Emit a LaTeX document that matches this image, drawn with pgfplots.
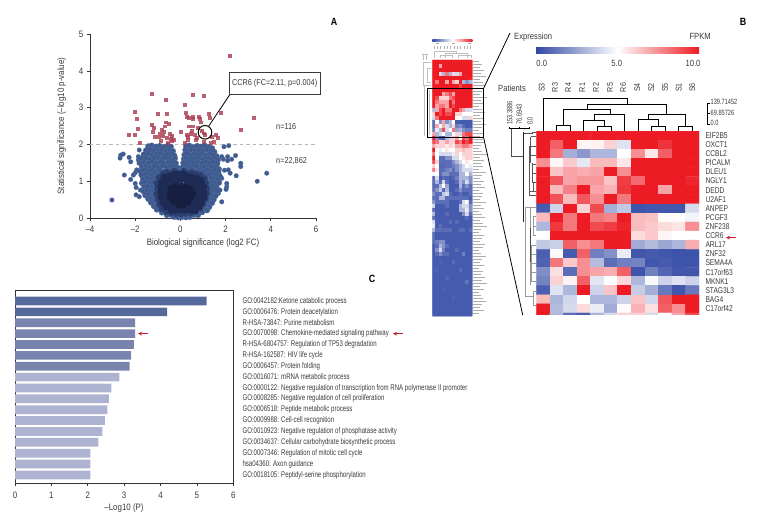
\documentclass[border=0pt]{standalone}
\usepackage{pgfplots}
\pgfplotsset{compat=1.18}
\usepackage{fontspec}
\setmainfont[FakeStretch=0.85]{Liberation Sans}
\newfontfamily\narrowfont[FakeStretch=0.74]{Liberation Sans}
\newfontfamily\genefont[FakeStretch=0.79]{Liberation Sans}
\usetikzlibrary{arrows.meta}
\definecolor{txt}{HTML}{3A3A3A}
\definecolor{axc}{HTML}{333333}
\definecolor{bA}{HTML}{3F5A8E}
\definecolor{bAe}{HTML}{5570A2}
\definecolor{bB}{HTML}{2B3F70}
\definecolor{bC}{HTML}{1E2C55}
\definecolor{bD}{HTML}{161F40}
\definecolor{redsq}{HTML}{A83A4E}
\definecolor{barA}{HTML}{55699A}
\definecolor{barB}{HTML}{7884AE}
\definecolor{barC}{HTML}{ADB3D0}
\definecolor{arrred}{HTML}{C8202E}
\pgfplotsset{colormap={hm}{rgb255=(50,72,165) rgb255=(255,255,255) rgb255=(237,28,36)}}
\pgfplotsset{
  pxaxis/.style={scale only axis, anchor=south west, tick label style={font=\fontsize{9.3}{10}\selectfont, text=txt},
    axis line style={axc,-}, tick style={axc, line width=.8pt}, major tick length=3pt, tick align=outside, line width=.8pt},
}
\begin{document}
\begin{tikzpicture}[x=1pt,y=-1pt]
\useasboundingbox (0,0) rectangle (764,522);

%%%% Panel A
\begin{axis}[pxaxis, at={(90pt,-218pt)}, width=226pt, height=183.7pt,
  xmin=-4, xmax=6, ymin=0, ymax=5, axis x line*=bottom, axis y line*=left,
  xtick={-4,-2,0,2,4,6}, xticklabels={–4,–2,0,2,4,6},
  ytick={0,1,2,3,4,5}, yticklabels={0,1,2,3,4,5}, clip=false, xticklabel style={yshift=-1pt}]
% sparse blue points
\addplot[only marks, mark=*, mark size=2.3pt, mark options={fill=bA, draw=bAe, line width=.3pt}] coordinates {
(-3.03,.49)(3.40,1.0)(3.82,1.22)(2.47,1.15)(2.44,1.70)(2.67,1.49)(2.67,1.40)(2.27,1.6)(2.09,1.56)(2.09,1.67)(1.93,1.94)(2.14,1.97)(1.83,.44)(1.83,1.67)
(-2.48,1.17)(-2.2,1.05)(-2.64,1.71)(-2.53,1.74)(-2.67,1.63)(-2.27,1.65)(-2.2,1.53)(-2,1.23)(-1.93,1.31)(-2.08,1.17)(-2,.94)(-1.96,.83)(-1.96,.63)(-1.82,.58)(-1.77,.76)(-1.86,1.67)(-1.86,1.58)(-1.82,1.85)(-1.83,1.49)
(2.05,.85)(2.05,.94)(2.02,.78)(2.2,1.22)(2.12,1.31)(1.83,1.08)(1.75,.76)(1.68,.67)(1.95,1.3)(1.9,1.6)
};
% dense blue points
\addplot[only marks, mark=*, mark size=2.9pt, mark options={fill=bA, draw=bAe, line width=.2pt}] coordinates {
(-1.42,1.95)(-1.27,1.97)(-1.08,1.94)(-.92,1.96)(-.73,1.93)(-.56,1.97)(-.42,1.94)(.25,1.95)(.39,1.97)(.56,1.93)(.74,1.96)(.91,1.94)(1.08,1.97)(1.26,1.93)(1.4,1.9)
(-1.52,1.84)(-1.34,1.86)(-1.15,1.83)(-.99,1.85)(-.81,1.87)(-.64,1.83)(-.46,1.85)(-.33,1.82)(.22,1.85)(.33,1.82)(.48,1.86)(.66,1.83)(.83,1.85)(1.01,1.82)(1.18,1.86)(1.36,1.83)(1.5,1.8)
(-1.62,1.73)(-1.44,1.75)(-1.25,1.72)(-1.07,1.74)(-.9,1.76)(-.72,1.72)(-.55,1.75)(-.38,1.73)(-.27,1.7)(.18,1.72)(.28,1.75)(.43,1.71)(.59,1.74)(.76,1.72)(.94,1.75)(1.11,1.71)(1.29,1.74)(1.46,1.71)(1.6,1.68)
(-1.72,1.62)(-1.53,1.64)(-1.35,1.6)(-1.17,1.63)(-.99,1.65)(-.81,1.61)(-.63,1.64)(-.47,1.62)(-.34,1.6)(-.24,1.63)(.16,1.61)(.25,1.64)(.37,1.6)(.51,1.63)(.68,1.61)(.85,1.64)(1.03,1.6)(1.2,1.63)(1.38,1.6)(1.54,1.63)(1.66,1.58)
(-1.76,1.5)(-1.6,1.52)(-1.42,1.49)(-1.24,1.52)(-1.06,1.5)(-.88,1.53)(-.7,1.49)(-.53,1.52)(-.4,1.5)(-.29,1.53)(-.2,1.49)(.13,1.5)(.22,1.53)(.33,1.49)(.46,1.52)(.61,1.5)(.78,1.53)(.95,1.49)(1.13,1.52)(1.3,1.49)(1.47,1.52)(1.63,1.48)
(-1.7,1.39)(-1.52,1.41)(-1.34,1.38)(-1.15,1.41)(-.97,1.39)(-.79,1.42)(-.61,1.38)(-.44,1.41)(-.32,1.38)(-.22,1.41)(-.13,1.37)(.1,1.38)(.19,1.41)(.29,1.37)(.42,1.4)(.55,1.38)(.72,1.41)(.89,1.37)(1.07,1.4)(1.24,1.38)(1.41,1.41)(1.58,1.37)(1.7,1.33)
(-1.78,1.28)(-1.6,1.3)(-1.43,1.27)(-1.26,1.3)(-1.08,1.27)(-.9,1.3)(-.72,1.26)(-.55,1.29)(-.38,1.27)(-.22,1.3)(-.1,1.27)(.09,1.28)(.23,1.31)(.37,1.27)(.52,1.3)(.69,1.27)(.86,1.3)(1.02,1.27)(1.2,1.3)(1.36,1.26)(1.52,1.29)(1.68,1.25)
(-1.72,1.17)(-1.54,1.19)(-1.37,1.16)(-1.2,1.19)(-1.03,1.16)(-.87,1.18)(1.12,1.16)(1.29,1.19)(1.46,1.15)(1.62,1.18)(1.74,1.14)
(-1.65,1.06)(-1.48,1.08)(-1.31,1.05)(-1.14,1.08)(-.98,1.05)(1.19,1.05)(1.36,1.08)(1.53,1.04)(1.68,1.07)
(-1.7,.95)(-1.54,.97)(-1.38,.94)(-1.21,.97)(-1.04,.94)(1.23,.95)(1.4,.97)(1.56,.94)(1.71,.96)
(-1.6,.84)(-1.44,.86)(-1.27,.83)(-1.1,.86)(1.27,.84)(1.44,.86)(1.6,.83)
(-1.62,.72)(-1.48,.75)(-1.32,.72)(-1.15,.75)(1.28,.72)(1.45,.75)(1.62,.73)
(-1.55,.62)(-1.38,.64)(-1.22,.61)(-1.06,.64)(1.23,.61)(1.39,.63)(1.55,.6)
(-1.42,.52)(-1.27,.54)(-1.1,.51)(1.15,.52)(1.32,.54)(1.47,.5)
(-1.3,.42)(-1.14,.44)(-.98,.41)(1.1,.42)(1.25,.44)(1.4,.41)
(-1.17,.32)(-1.02,.34)(-.86,.31)(.98,.31)(1.14,.33)(1.28,.3)
(-1.04,.23)(-.9,.25)(-.74,.22)(-.58,.24)(.78,.24)(.93,.22)(1.08,.25)(1.18,.21)
(-.82,.15)(-.67,.16)(-.5,.14)(-.34,.16)(.5,.15)(.67,.16)(.83,.14)(.97,.16)
(-.6,.08)(-.42,.09)(-.25,.07)(-.08,.09)(.1,.08)(.27,.09)(.45,.07)(.62,.09)(.78,.08)
(-.28,.03)(-.1,.02)(.08,.03)(.25,.02)(.42,.03)
};
% second ring
\addplot[only marks, mark=*, mark size=2.6pt, mark options={fill=bB, draw=bB}] coordinates {
(-.95,1.1)(-.78,1.2)(-.6,1.25)(-.42,1.22)(-.27,1.28)(.14,1.28)(.3,1.22)(.5,1.24)(.7,1.2)(.9,1.17)(1.08,1.08)
(-1.05,.95)(-1.02,.8)(-1.06,.65)(-1,.5)(-.93,.36)(-.82,.24)(-.62,.17)(-.42,.13)(-.2,.11)(.02,.1)(.24,.12)(.46,.13)(.68,.18)(.88,.26)(1.02,.38)(1.12,.52)(1.18,.66)(1.18,.8)(1.14,.95)
};
% dense core
\addplot[only marks, mark=*, mark size=3.2pt, mark options={fill=bC, draw=bC}] coordinates {
(-.72,1.1)(-.5,1.14)(-.28,1.18)(-.12,1.2)(.12,1.2)(.3,1.14)(.52,1.12)(.74,1.08)(.92,1.02)
(-.82,.98)(-.6,1)(-.38,1.02)(-.16,1.04)(.06,1.06)(.28,1.02)(.5,1)(.72,.98)(.94,.93)(1.02,.85)
(-.86,.85)(-.64,.87)(-.42,.86)(-.2,.88)(.02,.9)(.24,.88)(.46,.86)(.68,.85)(.9,.82)
(-.86,.7)(-.64,.72)(-.42,.73)(-.2,.74)(.02,.75)(.24,.73)(.46,.72)(.68,.71)(.9,.69)(1.04,.7)
(-.84,.56)(-.62,.58)(-.4,.59)(-.18,.6)(.04,.6)(.26,.59)(.48,.58)(.7,.57)(.92,.55)(1.04,.56)
(-.78,.43)(-.58,.45)(-.36,.46)(-.14,.46)(.08,.46)(.3,.45)(.52,.44)(.74,.43)(.92,.42)
(-.66,.31)(-.46,.32)(-.26,.33)(-.04,.33)(.18,.33)(.4,.32)(.62,.31)(.82,.3)
(-.4,.21)(-.18,.22)(.04,.22)(.26,.22)(.48,.21)(.66,.2)
};
% centre
\addplot[only marks, mark=*, mark size=3pt, mark options={fill=bD, draw=bD}] coordinates {
(-.42,.82)(-.22,.86)(0,.82)(.22,.84)(.42,.8)(-.46,.68)(-.26,.72)(-.04,.7)(.18,.72)(.4,.68)(.56,.66)(-.44,.56)(-.22,.58)(0,.56)(.22,.58)(.44,.55)(-.3,.46)(-.08,.44)(.14,.46)(.34,.44)(-.06,.35)(.12,.36)
};
% threshold
\addplot[dashed, dash pattern=on 3.5pt off 3pt, color=black!28, line width=1pt] coordinates {(-4,2)(6,2)};
% significant points
\addplot[only marks, mark=square*, mark size=1.95pt, mark options={fill=redsq, draw=redsq, draw opacity=0, fill opacity=.8, line width=0pt}] coordinates {
(2.20,4.41)(-1.26,3.38)(-.62,3.21)(.54,3.35)(1.03,3.32)(.22,3.07)(-1.99,2.88)(-.98,2.82)(-.61,2.83)(-1.92,2.70)(.23,2.85)(.28,2.74)(.38,2.71)(.57,2.76)(.54,2.70)(.82,2.76)(.87,2.69)(1.25,2.83)(1.31,2.73)(1.81,2.86)(3.27,2.73)(2.70,2.40)(-1.88,2.43)(-2.29,2.25)(-1.99,2.27)(-1.26,2.53)(-1.17,2.44)(-1.23,2.35)(-1.14,2.21)(-.96,2.20)(-.65,2.60)(-.52,2.56)(-.67,2.49)(-.8,2.40)(-.73,2.35)(-.9,2.30)(-.46,2.28)(-.37,2.23)(-.76,2.23)(-.61,2.18)(-.42,2.15)(-.84,2.10)(-.37,2.09)(-1.77,2.05)(.03,2.35)(.40,2.49)(.54,2.49)(.53,2.38)(.79,2.44)(.94,2.38)(1.04,2.30)(1.09,2.26)(.28,2.26)(.35,2.20)(.65,2.26)(.72,2.17)(.32,2.12)(.2,2.05)(.68,2.12)(1.04,2.08)(1.38,2.21)(1.56,2.26)(1.68,2.17)(1.37,2.03)(1.5,2.08)(-.3,2.12)(-.55,2.05)(.45,2.28)(.9,2.6)
};
\end{axis}
\draw[black, line width=1pt] (205,132.3) circle (6.8);
\draw[black, line width=.8pt] (208.5,126.5) -- (230,94.3);
\node[draw=txt, line width=1.1pt, fill=white, minimum width=91pt, minimum height=21.5pt, inner sep=0pt, text=txt, font=\fontsize{8.6}{10}\selectfont] at (274.6,83.5) {CCR6 (FC=2.11, p=0.004)};
\node[anchor=west, text=txt, font=\fontsize{8.6}{10}\selectfont, inner sep=0] at (276,127) {n=116};
\node[anchor=west, text=txt, font=\fontsize{8.6}{10}\selectfont, inner sep=0] at (276,160.7) {n=22,862};
\node[text=txt, font=\fontsize{9.3}{10}\selectfont] at (203,243) {Biological significance (log2 FC)};
\node[text=txt, rotate=90, font=\fontsize{9.3}{10}\selectfont] at (61.7,126) {Statistical significance (–log10 p-value)};
\node[font=\bfseries\fontsize{10.5}{11}\selectfont] at (334,22) {A};
\node[font=\bfseries\fontsize{10.5}{11}\selectfont] at (743,21.5) {B};
\node[font=\bfseries\fontsize{10.5}{11}\selectfont] at (372,278.5) {C};

%%%% Panel C
\begin{axis}[pxaxis, at={(15pt,-483.3pt)}, width=218.3pt, height=192.6pt,
  xmin=0, xmax=6, ymin=0.052, ymax=17.77, y dir=reverse, clip=false,
  axis line style={axc,-,line width=1pt},
  xtick={0,1,2,3,4,5,6}, xticklabels={0,1,2,3,4,5,6}, xtick pos=bottom, xticklabel style={yshift=-2pt},
  ytick={1,...,17}, ytick pos=right, ytick style={draw=none}, major tick length=3pt,
  yticklabel pos=right,
  yticklabel style={anchor=west, xshift=2.5pt, font=\narrowfont\fontsize{8.2}{9}\selectfont, text=txt},
  yticklabels={{GO:0042182:Ketone catabolic process},{GO:0006476: Protein deacetylation},{R-HSA-73847: Purine metabolism},{GO:0070098: Chemokine-mediated signaling pathway},{R-HSA-6804757: Regulation of TP53 degradation},{R-HSA-162587: HIV life cycle},{GO:0006457: Protein folding},{GO:0016071: mRNA metabolic process},{GO:0000122: Negative regulation of transcription from RNA polymerase II promoter},{GO:0008285: Negative regulation of cell proliferation},{GO:0006518: Peptide metabolic process},{GO:0009988: Cell-cell recognition},{GO:0010923: Negative regulation of phosphatase activity},{GO:0034637: Cellular carbohydrate biosynthetic process},{GO:0007346: Regulation of mitotic cell cycle},{hsa04360: Axon guidance},{GO:0018105: Peptidyl-serine phosphorylation}},
  xbar, bar width=8.7pt, bar shift=0pt]
\addplot[fill=barA, draw=none] coordinates {(5.27,1)(4.18,2)};
\addplot[fill=barB, draw=none] coordinates {(3.3,3)(3.3,4)(3.27,5)(3.19,6)(3.15,7)};
\addplot[fill=barC, draw=none] coordinates {(2.87,8)(2.65,9)(2.58,10)(2.54,11)(2.47,12)(2.4,13)(2.29,14)(2.07,15)(2.07,16)(2.07,17)};
\end{axis}
\node[text=txt, font=\fontsize{9.3}{10}\selectfont] at (124,508) {–Log10 (P)};
\draw[arrred, line width=1pt, -{Stealth[length=4pt,width=4pt]}] (148,333.7) -- (138,333.7);
\draw[arrred, line width=1pt, -{Stealth[length=4pt,width=4pt]}] (403,333.7) -- (393,333.7);

%%%% Mini heatmap
\begin{axis}[scale only axis, anchor=south west, at={(432.3pt,-316.5pt)}, width=40pt, height=256.5pt, hide axis,
  xmin=-.5, xmax=11.5, ymin=-.5, ymax=63.6, y dir=reverse, colormap name=hm, point meta min=0, point meta max=10]
\addplot[matrix plot*, mesh/cols=12, point meta=explicit] table[row sep=\\, header=false, x expr={mod(\coordindex,12)}, y expr={int(\coordindex/12+0.01)}, meta index=0] {
10\\10\\10\\10\\10\\10\\10\\10\\10\\10\\10\\10\\
10\\10\\7\\10\\10\\10\\10\\10\\10\\10\\10\\10\\
10\\10\\10\\10\\10\\10\\10\\10\\10\\10\\10\\10\\
10\\10\\6\\3\\8\\3\\6\\4\\7\\10\\10\\10\\
10\\10\\10\\10\\10\\10\\10\\10\\10\\10\\10\\10\\
10\\8\\10\\10\\7\\10\\7\\6\\10\\3\\2\\3\\
10\\10\\10\\10\\10\\10\\10\\10\\9\\10\\10\\10\\
10\\10\\10\\10\\10\\10\\10\\10\\10\\10\\10\\10\\
10\\10\\10\\7\\8\\9\\7\\10\\10\\10\\10\\10\\
10\\9\\6\\6\\6\\8\\9\\10\\10\\10\\10\\10\\
10\\8\\7\\7\\7\\10\\8\\10\\10\\10\\10\\10\\
10\\7\\8\\8\\7\\10\\9\\10\\10\\10\\10\\10\\
3\\7\\9\\10\\8\\8\\10\\10\\8\\7\\4\\4\\
6\\10\\9\\10\\9\\9\\10\\6\\6\\5\\5\\5\\
4\\8\\10\\10\\10\\10\\10\\5\\5\\4\\4\\6\\
1\\5\\2\\7\\2\\3\\5\\.5\\.5\\.5\\.5\\.5\\
1\\7\\5\\7\\4\\3\\6\\1.5\\2\\1\\.5\\.5\\
1.5\\4.5\\3\\9\\4\\5\\8\\2.5\\3\\2\\1.5\\1.5\\
7\\3\\4\\5\\3\\3\\5\\6\\4\\8\\9\\9\\
10\\2\\1\\.5\\3\\4\\6\\7\\5\\9\\8\\10\\
9\\8\\6\\6\\7\\6\\6\\9\\8\\10\\9\\10\\
7\\6\\6\\6\\5.5\\6\\5.5\\7\\7\\8\\8\\7\\
10\\5\\4.5\\5\\5.5\\5\\5\\6\\6\\6.5\\6\\6\\
8\\5\\4\\4\\4\\4\\4.5\\6\\5\\6\\6\\6\\
10\\5\\1\\1\\2\\2\\4\\4\\5\\5.5\\6\\6\\
9\\6\\1\\1\\1\\1\\2\\3\\4\\5\\5.5\\5\\
6\\5\\.8\\.8\\1\\1\\1.5\\2\\3\\4\\5\\4.5\\
8\\5.5\\1\\1\\1.5\\2\\1\\2\\3\\4\\4\\4\\
5\\5\\1\\2\\2\\1\\1\\1\\3\\3\\5\\3\\
1\\4\\.5\\1\\.8\\.5\\.8\\1.5\\3\\3\\3\\2\\
1\\3\\1\\4\\1\\.5\\.5\\1\\3\\2\\4\\2\\
1\\1\\3\\5\\2.5\\.5\\.5\\.5\\3\\1\\2\\1\\
1\\2\\3.5\\1\\3\\.5\\.5\\1\\2\\1\\1\\1\\
2\\1\\1\\3.5\\4\\1\\.5\\.5\\1\\.5\\.5\\1\\
1\\1\\3\\3\\1\\1\\1\\1\\1\\1\\1\\.5\\
2\\1\\1\\1\\1\\.5\\.5\\.5\\1\\4\\5\\1\\
4\\.5\\.5\\.5\\1\\.5\\.5\\.5\\3\\4\\4\\2\\
1\\.5\\.5\\.5\\.5\\.5\\.5\\.5\\3\\3\\4.5\\2\\
3\\.5\\.5\\.5\\1\\.5\\.5\\.5\\.5\\2\\4\\1\\
1\\.5\\.5\\.5\\.5\\.5\\.5\\.5\\.5\\.5\\1\\.5\\
4\\.5\\.5\\.5\\.5\\1\\.5\\1\\.5\\.5\\.5\\.5\\
4.5\\.5\\1\\.5\\.5\\.5\\.5\\.5\\.5\\.5\\.5\\.5\\
3\\1\\1\\1\\1\\1\\.5\\.5\\1\\1\\.5\\1\\
1\\.5\\.5\\.5\\.5\\.5\\.5\\.5\\.5\\.5\\.5\\.5\\
1\\.5\\.5\\.5\\.5\\.5\\.5\\.5\\.5\\.5\\.5\\.5\\
1\\1.5\\2\\2\\.5\\.5\\.5\\.5\\.5\\.5\\.5\\.5\\
.5\\1\\3\\2\\1\\.5\\.5\\.5\\.5\\.5\\.5\\.5\\
.5\\2\\4\\1.5\\.5\\.5\\.5\\1\\.5\\.5\\.5\\.5\\
.5\\1\\2\\1\\1\\.5\\.5\\.5\\.5\\1.5\\.5\\.5\\
.5\\.5\\.5\\.5\\.5\\.5\\.5\\.5\\.5\\.5\\.5\\.5\\
.5\\.5\\.7\\.5\\.5\\.5\\1\\.5\\.5\\.5\\.5\\.5\\
.5\\.5\\.5\\.5\\.5\\.5\\.5\\.5\\.5\\.5\\.5\\.5\\
.5\\.7\\.5\\.5\\.5\\.5\\.5\\.5\\1\\.5\\.5\\.5\\
.5\\.5\\.5\\.5\\.5\\.5\\.5\\.5\\.5\\.5\\.5\\.5\\
.5\\.5\\.5\\.5\\.8\\.5\\.5\\.5\\.5\\.5\\.5\\.5\\
.5\\.5\\.5\\.5\\.5\\.5\\.5\\.5\\.5\\.5\\1.2\\.5\\
.5\\.5\\.5\\.5\\.5\\.5\\.5\\.5\\.5\\.5\\.5\\.5\\
.5\\.5\\.5\\.7\\.5\\.5\\.5\\.5\\.5\\.5\\.5\\.5\\
.5\\.5\\.5\\.5\\.5\\.5\\.5\\.5\\.5\\.5\\.5\\.5\\
.5\\.5\\.5\\.5\\.5\\.5\\.7\\.5\\.5\\.5\\.5\\.5\\
.5\\.5\\.5\\.5\\.5\\.5\\.5\\.5\\.5\\.5\\.5\\.5\\
.5\\.5\\.5\\.5\\.5\\.5\\.5\\.5\\.5\\.5\\.5\\.5\\
.5\\.5\\.5\\.5\\.5\\.5\\.5\\.5\\.5\\.5\\.5\\.5\\
.5\\.5\\.5\\.5\\.5\\.5\\.5\\.5\\.5\\.5\\.5\\.5\\
};
\end{axis}
% mini gene labels (illegible in the source)
\foreach \w [count=\i] in {6,9,7,11,8,13,7,10,12,6,9,7,14,8,11,6,9,12,7,10,8,13,9,6,11,7,10,12,8,6,9,14,7,11,8,10,6,13,9,7,11,8,12,6,10,9,7,13,8,11,6,9,12,7,10,14,8,6,11,9,7,12,10,6,8,13,9,7,11,6,10,8,12,9,14,7,11,6,8,10,13,9,7,11,6}
  \draw[black!32, line width=.9pt] (473,{58+3*\i}) -- ++(\w,0);
% mini colour bar and dendrograms
\shade[left color={rgb,255:red,50;green,72;blue,165}, right color={rgb,255:red,237;green,28;blue,36}, middle color=white] (432.3,39) rectangle (472.3,41);
\foreach \xx in {436,452,468} \draw[black!35, line width=.8pt] (\xx,43.5) -- ++(3,0);
\foreach \xx in {434,437.3,440.6,444,447.3,450.6,454,457.3,460.6,464,467.3,470.6} \draw[black!30, line width=.7pt] (\xx,46) -- ++(0,3);
\begin{scope}[black!25, line width=.35pt]
\draw (434,58) -- (434,51) -- (456,51) -- (456,53) (445,53) -- (467,53) (445,53) -- (445,58) (467,53) -- (467,58) (440,58) -- (440,55) -- (452,55) -- (452,58) (458,58) -- (458,55) -- (471,55) -- (471,58);
\draw (431,62) -- (423,62) -- (423,85) -- (431,85) (427,68) -- (431,68) (427,68) -- (427,82) -- (431,82) (429,90) -- (429,135) (424,85) -- (424,136);
\draw (422,54) -- (428,54) (423,54) -- (423,60) (426,54) -- (426,60);
\end{scope}
\draw[black, line width=1.2pt] (427.3,88.3) rectangle (483.6,137.4);
\draw[black, line width=.8pt] (483.6,88.3) -- (510,33);
\draw[black, line width=.8pt] (483.6,137.4) -- (522.7,315);

%%%% Main heatmap
\begin{axis}[scale only axis, anchor=south west, at={(536.3pt,-314.8pt)}, width=162.7pt, height=183.8pt,
  xmin=-.5, xmax=11.5, ymin=-.5, ymax=19.7, y dir=reverse, colormap name=hm, point meta min=0, point meta max=10,
  axis line style={draw=none}, xtick=\empty, ytick={0,...,19}, ytick pos=right, yticklabel pos=right,
  ytick style={draw=none}, major tick length=0pt,
  yticklabel style={anchor=west, xshift=3pt, font=\genefont\fontsize{8.4}{9}\selectfont, text=txt},
  yticklabels={EIF2B5,OXCT1,CCBL2,PICALM,DLEU1,NGLY1,DEDD,U2AF1,ANPEP,PCGF3,ZNF238,CCR6,ARL17,ZNF32,SEMA4A,C17orf63,MKNK1,STAG3L3,BAG4,C17orf42}]
\addplot[matrix plot*, mesh/cols=12, point meta=explicit] table[row sep=\\, header=false, x expr={mod(\coordindex,12)}, y expr={int(\coordindex/12+0.01)}, meta index=0] {
10\\10\\10\\10\\10\\10\\10\\10\\10\\10\\10\\10\\
10\\8.5\\10\\5.2\\5.3\\6\\4.2\\10\\10\\9.5\\10\\10\\
10\\8\\2.8\\2.2\\3\\3\\5\\7.5\\5.5\\8.5\\10\\10\\
7.5\\5.2\\6.2\\4.4\\6.5\\6.5\\5.5\\10\\10\\10\\10\\10\\
10\\6.3\\7\\6.8\\7\\10\\7.5\\10\\10\\10\\10\\10\\
10\\8.7\\7\\7.3\\7.3\\6.3\\9.3\\8.3\\10\\10\\10\\9.8\\
10\\6.5\\7.8\\10\\7\\6.7\\9.4\\10\\10\\7\\10\\10\\
10\\8.8\\6.5\\8.7\\7.5\\10\\8\\10\\10\\10\\10\\10\\
.5\\3.8\\10\\6\\9\\2.8\\3.5\\.3\\.4\\.4\\.4\\4\\
6.5\\10\\8\\10\\8\\7.7\\10\\6.5\\6.4\\5.1\\5.1\\4.7\\
3\\9.4\\8\\10\\9\\9.3\\9.8\\6.5\\6.2\\5.8\\5.6\\7.5\\
5\\10\\10\\10\\10\\10\\10\\5.8\\6.2\\5.2\\5\\5\\
3.5\\3.7\\8.5\\7.5\\8\\10\\10\\2.7\\3.2\\2.6\\3\\6.8\\
.6\\4.9\\.5\\8.5\\1.5\\2\\4.5\\.4\\.5\\.4\\.3\\.3\\
.7\\8\\6.2\\7.5\\3.2\\1\\1.5\\1.6\\.4\\.5\\.3\\.3\\
1.9\\5.7\\1\\7.5\\7\\6.8\\8.5\\.3\\1.5\\.8\\.4\\.4\\
1.6\\6\\5.3\\8.5\\4.3\\5\\5.9\\3\\4.8\\3.8\\4.2\\3.8\\
.6\\4.2\\3\\10\\3.8\\6.3\\10\\3.6\\2.8\\1.3\\.4\\1.3\\
6.5\\3\\3.9\\5\\3\\3\\3.8\\6.3\\3.9\\8.7\\10\\10\\
10\\3.2\\4\\5.8\\4.5\\2.7\\5.1\\6.7\\5.7\\8.5\\7.5\\10\\
10\\3\\1\\.5\\3\\4\\6\\6\\4\\5\\7\\9\\
};
\end{axis}
\draw[arrred, line width=1pt, -{Stealth[length=4pt,width=4pt]}] (736,237.7) -- (726,237.7);
% colour bar
\shade[left color={rgb,255:red,50;green,72;blue,165}, right color={rgb,255:red,237;green,28;blue,36}, middle color=white] (536,47) rectangle (699,53.7);
\node[anchor=west, text=txt, font=\fontsize{9}{10}\selectfont, inner sep=0] at (514,36.7) {Expression};
\node[anchor=east, text=txt, font=\fontsize{9}{10}\selectfont, inner sep=0] at (711,36.7) {FPKM};
\foreach \xx/\l in {541.7/0.0,616.7/5.0,693/10.0} \node[text=txt, font=\fontsize{9}{10}\selectfont, inner sep=0] at (\xx,63) {\l};
\node[anchor=west, text=txt, font=\fontsize{9}{10}\selectfont, inner sep=0] at (498,88) {Patients};
\foreach \xx/\l in {541.7/S3,555/R3,568.3/R4,582.3/R1,596/R2,610/R5,623.3/R6,637.3/S4,651.3/S2,665/S5,678.7/S1,692.3/S6}
  \node[rotate=90, text=txt, font=\fontsize{8.4}{9}\selectfont, inner sep=0] at (\xx,87.5) {\l};
% top dendrogram, drawn in zoomed units
\begin{scope}[shift={(490,0)}, x=.3333pt, y=-.3333pt, black, line width=.8pt]
\draw (160,393)--(160,295)--(412,295)--(412,312);
\draw (292,328)--(292,312)--(530,312)--(530,343);
\draw (220,377)--(220,328)--(360,328)--(360,344);
\draw (312,362)--(312,344)--(404,344)--(404,393);
\draw (281,393)--(281,362)--(342,362)--(342,378);
\draw (322,393)--(322,378)--(363,378)--(363,393);
\draw (200,393)--(200,377)--(241,377)--(241,393);
\draw (475,358)--(475,343)--(586,343)--(586,378);
\draw (445,393)--(445,358)--(505,358)--(505,378);
\draw (485,393)--(485,378)--(526,378)--(526,393);
\draw (566,393)--(566,378)--(607,378)--(607,393);
\end{scope}
\draw[black, line width=.8pt] (709.5,103)--(707.5,103)--(707.5,124.5)--(709.5,124.5) (707.5,113.5)--(709.5,113.5);
\foreach \yy/\l in {102/139.71452,113/69.85726,123/0.0}
  \node[anchor=west, text=txt, font=\narrowfont\fontsize{7.6}{8}\selectfont, inner sep=0] at (710.5,\yy) {\l};
% left scale and dendrogram
\foreach \xx/\l in {509.7/153.3886,519.3/76.6943,530/0.0}
  \node[rotate=90, anchor=west, text=txt, font=\narrowfont\fontsize{7.6}{8}\selectfont, inner sep=0] at (\xx,125) {\l};
\draw[black, line width=.8pt] (509.7,126.5)--(509.7,128.5)--(529.8,128.5)--(529.8,126.5) (519.5,126.5)--(519.5,128.5);
\begin{scope}[shift={(500,95)}, x=.3333pt, y=-.3333pt]
\begin{scope}[black!70, line width=.8pt]
\draw (33,103)--(33,185)--(70,185);
\draw (70,115)--(98,115)--(98,112)--(108,112);
\end{scope}
\draw[black!85, line width=1.1pt] (70,110)--(70,382);
\begin{scope}[black!65, line width=.7pt]
\draw (88,155)--(88,300) (88,155)--(108,155) (92,125)--(92,205) (92,125)--(108,125) (92,180)--(108,180) (97,205)--(97,262) (97,208)--(108,208) (97,235)--(108,235) (97,262)--(108,262) (88,300)--(108,300) (88,290)--(108,290) (100,262)--(100,290);
\end{scope}
\begin{scope}[black!40, line width=.8pt]
\draw (75,338)--(75,605)--(100,605)--(100,630)--(108,630) (100,588)--(108,588) (100,588)--(100,605) (75,338)--(92,338) (90,338)--(90,570) (92,338)--(108,338) (100,365)--(108,365) (100,365)--(100,420) (100,395)--(108,395) (100,420)--(108,420) (95,450)--(108,450) (95,478)--(108,478) (95,505)--(108,505) (95,533)--(108,533) (95,560)--(108,560) (95,450)--(95,560);
\end{scope}
\draw[black!70, line width=.9pt] (92,400)--(92,500);
\end{scope}
\end{tikzpicture}
\end{document}
